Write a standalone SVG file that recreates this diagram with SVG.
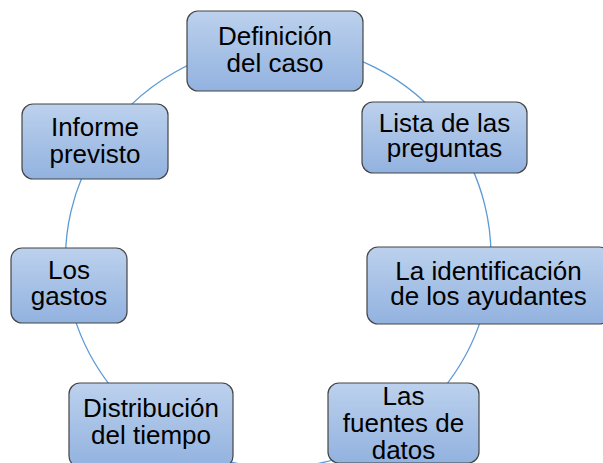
<svg xmlns="http://www.w3.org/2000/svg" width="603" height="463" viewBox="0 0 603 463">
<defs>
<linearGradient id="g" x1="0" y1="0" x2="0" y2="1">
<stop offset="0" stop-color="#bcd1ed"/>
<stop offset="1" stop-color="#92b2df"/>
</linearGradient>
<style>
.box{fill:url(#g);stroke:#454545;stroke-width:1.2}
.t{font-family:"Liberation Sans",Arial,sans-serif;font-size:26px;fill:#000;text-anchor:middle}
.c{fill:none;stroke:#5b9bd5;stroke-width:1.3}
</style>
</defs>
<rect width="603" height="463" fill="#fff"/>
<g id="connectors">
<path class="c" d="M275.3,45 A211 211 0 0 1 451,132"/>
<path class="c" d="M451,132 A211 211 0 0 1 489,284"/>
<path class="c" d="M489,284 A211 211 0 0 1 402,427"/>
<path class="c" d="M402,427 A211 211 0 0 1 151,425"/>
<path class="c" d="M151,425 A211 211 0 0 1 67,284"/>
<path class="c" d="M67,284 A211 211 0 0 1 99,145"/>
<path class="c" d="M99,145 A211 211 0 0 1 275.3,45"/>
</g>
<g id="n1">
<rect class="box" x="187" y="11" width="176" height="80" rx="11"/>
<text class="t" x="275" y="45">Definición</text>
<text class="t" x="275" y="72">del caso</text>
</g>
<g id="n2">
<rect class="box" x="362" y="102" width="165" height="71" rx="11"/>
<text class="t" x="444.5" y="131.5">Lista de las</text>
<text class="t" x="444.5" y="157">preguntas</text>
</g>
<g id="n3">
<rect class="box" x="367" y="247" width="243" height="77" rx="11"/>
<text class="t" x="488.5" y="279.5">La identificación</text>
<text class="t" x="488.5" y="305">de los ayudantes</text>
</g>
<g id="n4">
<rect class="box" x="328" y="383" width="151" height="80" rx="11"/>
<text class="t" x="403.5" y="405">Las</text>
<text class="t" x="403.5" y="432">fuentes de</text>
<text class="t" x="403.5" y="458.5">datos</text>
</g>
<g id="n5">
<rect class="box" x="69" y="383" width="164" height="84" rx="11"/>
<text class="t" x="151" y="416.7">Distribución</text>
<text class="t" x="151" y="444">del tiempo</text>
</g>
<g id="n6">
<rect class="box" x="11" y="248" width="116" height="75" rx="11"/>
<text class="t" x="69" y="279.3">Los</text>
<text class="t" x="69" y="305">gastos</text>
</g>
<g id="n7">
<rect class="box" x="22" y="104" width="146" height="75" rx="11"/>
<text class="t" x="95" y="135.7">Informe</text>
<text class="t" x="95" y="162.7">previsto</text>
</g>
</svg>
